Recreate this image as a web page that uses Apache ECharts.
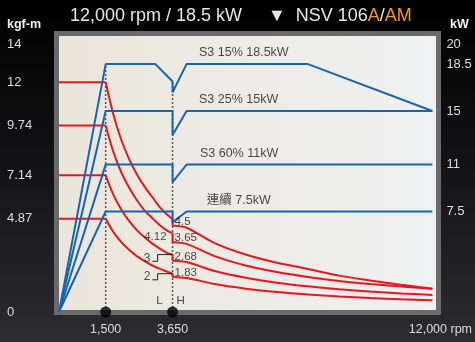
<!DOCTYPE html>
<html>
<head>
<meta charset="utf-8">
<script src="https://cdn.jsdelivr.net/npm/echarts@6/dist/echarts.min.js"></script>
<style>
  html, body { margin: 0; padding: 0; background: #000; }
  #chart { width: 475px; height: 342px; }
</style>
</head>
<body>
<div id="chart"></div>
<script>
// Axis tick values
const torqueTicks = [0, 4.87, 7.14, 9.74, 12, 14];
const powerTicks = [7.5, 11, 15, 18.5, 20];
const rpmTicks = [1500, 3650, 12000];

// Output power curves (kW vs rpm)
const powerS3_15 = [[0, 0], [1500, 18.5], [3100, 18.5], [3650, 17.2], [3650, 16.4], [4100, 18.5], [8000, 18.5], [12000, 15]];
const powerS3_25 = [[0, 0], [1500, 15], [3650, 15], [3650, 13.2], [4100, 15], [12000, 15]];
const powerS3_60 = [[0, 0], [1500, 11], [3650, 11], [3650, 9.7], [4100, 11], [12000, 11]];
const powerCont = [[0, 0], [1500, 7.5], [3650, 7.5], [3650, 6.7], [4100, 7.5], [12000, 7.5]];
const powerNames = ['S3 15% 18.5kW', 'S3 25% 15kW', 'S3 60% 11kW', '連續 7.5kW'];

// Torque curves (kgf-m vs rpm): constant part, low-speed winding (L), high-speed winding (H)
const torqueFlat = [12, 9.74, 7.14, 4.87];
const torqueLow18_5 = [[1500, 12], [1750, 10.3], [2000, 9.0], [2250, 8.0], [2500, 7.2], [2750, 6.55], [3000, 6.0], [3250, 5.45], [3500, 5.05], [3650, 4.85]];
const torqueHigh18_5 = [[3650, 4.5], [4100, 4.4], [5000, 3.6], [6000, 3.0], [7000, 2.57], [8000, 2.25], [9000, 1.9], [10000, 1.65], [11000, 1.42], [12000, 1.22]];
const torqueLow15 = [[1500, 9.74], [1750, 8.35], [2000, 7.3], [2250, 6.5], [2500, 5.85], [2750, 5.3], [3000, 4.9], [3250, 4.52], [3500, 4.22], [3650, 4.12]];
const torqueHigh15 = [[3650, 3.65], [4100, 3.56], [5000, 2.92], [6000, 2.43], [7000, 2.09], [8000, 1.83], [9000, 1.62], [10000, 1.46], [11000, 1.33], [12000, 1.22]];
const torqueLow11 = [[1500, 7.14], [1750, 6.12], [2000, 5.36], [2250, 4.76], [2500, 4.28], [2750, 3.9], [3000, 3.57], [3250, 3.3], [3500, 3.06], [3650, 3.0]];
const torqueHigh11 = [[3650, 2.68], [4100, 2.61], [5000, 2.14], [6000, 1.79], [7000, 1.53], [8000, 1.34], [9000, 1.19], [10000, 1.07], [11000, 0.97], [12000, 0.89]];
const torqueLow7_5 = [[1500, 4.87], [1750, 4.17], [2000, 3.65], [2250, 3.25], [2500, 2.92], [2750, 2.66], [3000, 2.43], [3250, 2.25], [3500, 2.09], [3650, 2.0]];
const torqueHigh7_5 = [[3650, 1.83], [4100, 1.78], [5000, 1.46], [6000, 1.22], [7000, 1.04], [8000, 0.91], [9000, 0.81], [10000, 0.73], [11000, 0.66], [12000, 0.61]];

// Values printed at the L/H switching speed
const switchRpm = 3650;
const highValues = [4.5, 3.65, 2.68, 1.83];
const lowValueLabelled = 4.12;
const leaderValues = [3, 2];

const BLUE = '#1565b5';
const RED = '#e8161f';
const FONT = 'Liberation Sans, Arial, sans-serif';

const chart = echarts.init(document.getElementById('chart'), null, { renderer: 'canvas' });

const series = [];

// Power lines on the kW axis
[powerS3_15, powerS3_25, powerS3_60, powerCont].forEach(d => {
  series.push({
    type: 'line', yAxisIndex: 1, data: d, symbol: 'none', silent: true, z: 4,
    lineStyle: { color: BLUE, width: 2 }
  });
});

// Torque lines on the kgf-m axis
const lowSets = [torqueLow18_5, torqueLow15, torqueLow11, torqueLow7_5];
const highSets = [torqueHigh18_5, torqueHigh15, torqueHigh11, torqueHigh7_5];
const redLine = { color: RED, width: 2 };
torqueFlat.forEach((t, i) => {
  const low = lowSets[i], high = highSets[i];
  series.push({ type: 'line', data: [[0, t], [1500, t]], symbol: 'none', silent: true, z: 3, lineStyle: redLine });
  series.push({ type: 'line', data: low, smooth: 0.3, symbol: 'none', silent: true, z: 3, lineStyle: redLine });
  series.push({ type: 'line', data: [low[low.length - 1], high[0]], symbol: 'none', silent: true, z: 3, lineStyle: redLine });
  series.push({ type: 'line', data: high, smooth: 0.3, symbol: 'none', silent: true, z: 3, lineStyle: redLine });
});

// Dotted guides at the base speed and the switching speed
series.push({
  type: 'line', yAxisIndex: 1, data: [[1500, 0], [1500, 18.5]], symbol: 'none', silent: true, z: 2,
  lineStyle: { color: '#555', width: 1.5, type: [2, 2] }
});
series.push({
  type: 'line', yAxisIndex: 1, data: [[switchRpm, 0], [switchRpm, 17.2]], symbol: 'none', silent: true, z: 2,
  lineStyle: { color: '#555', width: 1.5, type: [2, 2] }
});

// Leader lines for the low-winding values
const leaderStart = 3000, leaderKnee = 3170;
leaderValues.forEach((v, i) => {
  const low = i === 0 ? 2.65 : 1.68;
  series.push({
    type: 'line', data: [[leaderStart, low], [leaderKnee, low], [leaderKnee, v], [switchRpm, v]],
    symbol: 'none', silent: true, z: 5, lineStyle: { color: '#222', width: 1 }
  });
  series.push({
    type: 'scatter', data: [[leaderStart, low, v]], symbolSize: 0, silent: true, z: 6,
    label: { show: true, position: 'left', distance: 2, offset: [0, -3], formatter: p => String(p.value[2]),
      color: '#1a1a1a', fontSize: 12, fontFamily: FONT }
  });
});

// Value labels at the switching speed
series.push({
  type: 'scatter', data: highValues.map(v => [switchRpm, v]), symbolSize: 0, silent: true, z: 6,
  label: { show: true, position: 'right', distance: 2, offset: [0, -4], formatter: p => String(p.value[1]),
    color: '#1a1a1a', fontSize: 11.5, fontFamily: FONT }
});
series.push({
  type: 'scatter', data: [[switchRpm, lowValueLabelled]], symbolSize: 0, silent: true, z: 6,
  label: { show: true, position: 'left', distance: 6, offset: [0, 4], formatter: p => String(p.value[1]),
    color: '#1a1a1a', fontSize: 11.5, fontFamily: FONT }
});

// Power curve names
series.push({
  type: 'scatter', yAxisIndex: 1, symbolSize: 0, silent: true, z: 6,
  data: [[4500, 18.5, powerNames[0]], [4500, 15, powerNames[1]], [4530, 11, powerNames[2]], [4750, 7.5, powerNames[3]]],
  label: { show: true, position: 'top', distance: 5, align: 'left', offset: [0, 0],
    formatter: p => p.value[2], color: '#1a1a1a', fontSize: 12.5,
    fontFamily: 'Liberation Sans, Noto Sans CJK TC, sans-serif' }
});

// Speed markers on the axis and winding labels
series.push({
  type: 'scatter', data: [[1500, 0], [switchRpm, 0]], symbol: 'circle', symbolSize: 11, silent: true, z: 7,
  itemStyle: { color: '#000' }
});
series.push({
  type: 'scatter', data: [[switchRpm, 0.6]], symbolSize: 0, silent: true, z: 6,
  label: { show: true, position: 'left', distance: 10, formatter: 'L', color: '#1a1a1a', fontSize: 11.5, fontFamily: FONT }
});
series.push({
  type: 'scatter', data: [[switchRpm, 0.6]], symbolSize: 0, silent: true, z: 6,
  label: { show: true, position: 'right', distance: 4, formatter: 'H', color: '#1a1a1a', fontSize: 11.5, fontFamily: FONT }
});

const option = {
  animation: false,
  backgroundColor: {
    type: 'linear', x: 0, y: 0, x2: 0, y2: 1,
    colorStops: [{ offset: 0, color: '#000000' }, { offset: 0.45, color: '#121214' }, { offset: 1, color: '#2c2c31' }]
  },
  grid: { left: 59, right: 39, top: 44, bottom: 30 },
  graphic: [
    {
      type: 'rect', z: -10, silent: true,
      shape: { x: 56.5, y: 33.5, width: 382, height: 279 },
      style: {
        fill: { type: 'linear', x: 0, y: 0, x2: 1, y2: 0,
          colorStops: [{ offset: 0, color: '#ebe6da' }, { offset: 1, color: '#eff1f2' }] },
        stroke: '#6a6a6a', lineWidth: 5
      }
    },
    {
      type: 'text', left: 70, top: 7, silent: true,
      style: { text: '12,000 rpm / 18.5 kW', fill: '#e6e6e6', font: '18px ' + FONT }
    },
    {
      type: 'text', left: 268, top: 7, silent: true,
      style: {
        text: '▼  NSV 106{o|A}/{o|AM}', fill: '#e6e6e6', font: '18px ' + FONT,
        rich: { o: { fill: '#f39a12', font: '18px ' + FONT } }
      }
    },
    {
      type: 'text', left: 7, top: 18, silent: true,
      style: { text: 'kgf-m', fill: '#f2f2f2', font: 'bold 12.5px ' + FONT }
    },
    {
      type: 'text', left: 450, top: 18, silent: true,
      style: { text: 'kW', fill: '#f2f2f2', font: 'bold 12.5px ' + FONT }
    }
  ],
  xAxis: {
    type: 'value', min: 0, max: 12000,
    axisLine: { show: false }, axisTick: { show: false }, splitLine: { show: false },
    axisLabel: {
      customValues: rpmTicks, margin: 11, color: '#dcdcdc', fontSize: 12.5, fontFamily: FONT,
      formatter: v => v === 12000 ? '{r|12,000 rpm}' : v.toLocaleString('en-US'),
      rich: { r: { padding: [0, 0, 0, 16], color: '#dcdcdc', fontSize: 12.5, fontFamily: FONT } }
    }
  },
  yAxis: [
    {
      type: 'value', min: 0, max: 14, position: 'left',
      axisLine: { show: false }, axisTick: { show: false }, splitLine: { show: false },
      axisLabel: { customValues: torqueTicks, align: 'left', margin: 52, color: '#dcdcdc', fontSize: 13, fontFamily: FONT }
    },
    {
      type: 'value', min: 0, max: 20, position: 'right',
      axisLine: { show: false }, axisTick: { show: false }, splitLine: { show: false },
      axisLabel: { customValues: powerTicks, align: 'left', margin: 14, color: '#dcdcdc', fontSize: 13, fontFamily: FONT }
    }
  ],
  series: series
};

chart.setOption(option);
</script>
</body>
</html>
